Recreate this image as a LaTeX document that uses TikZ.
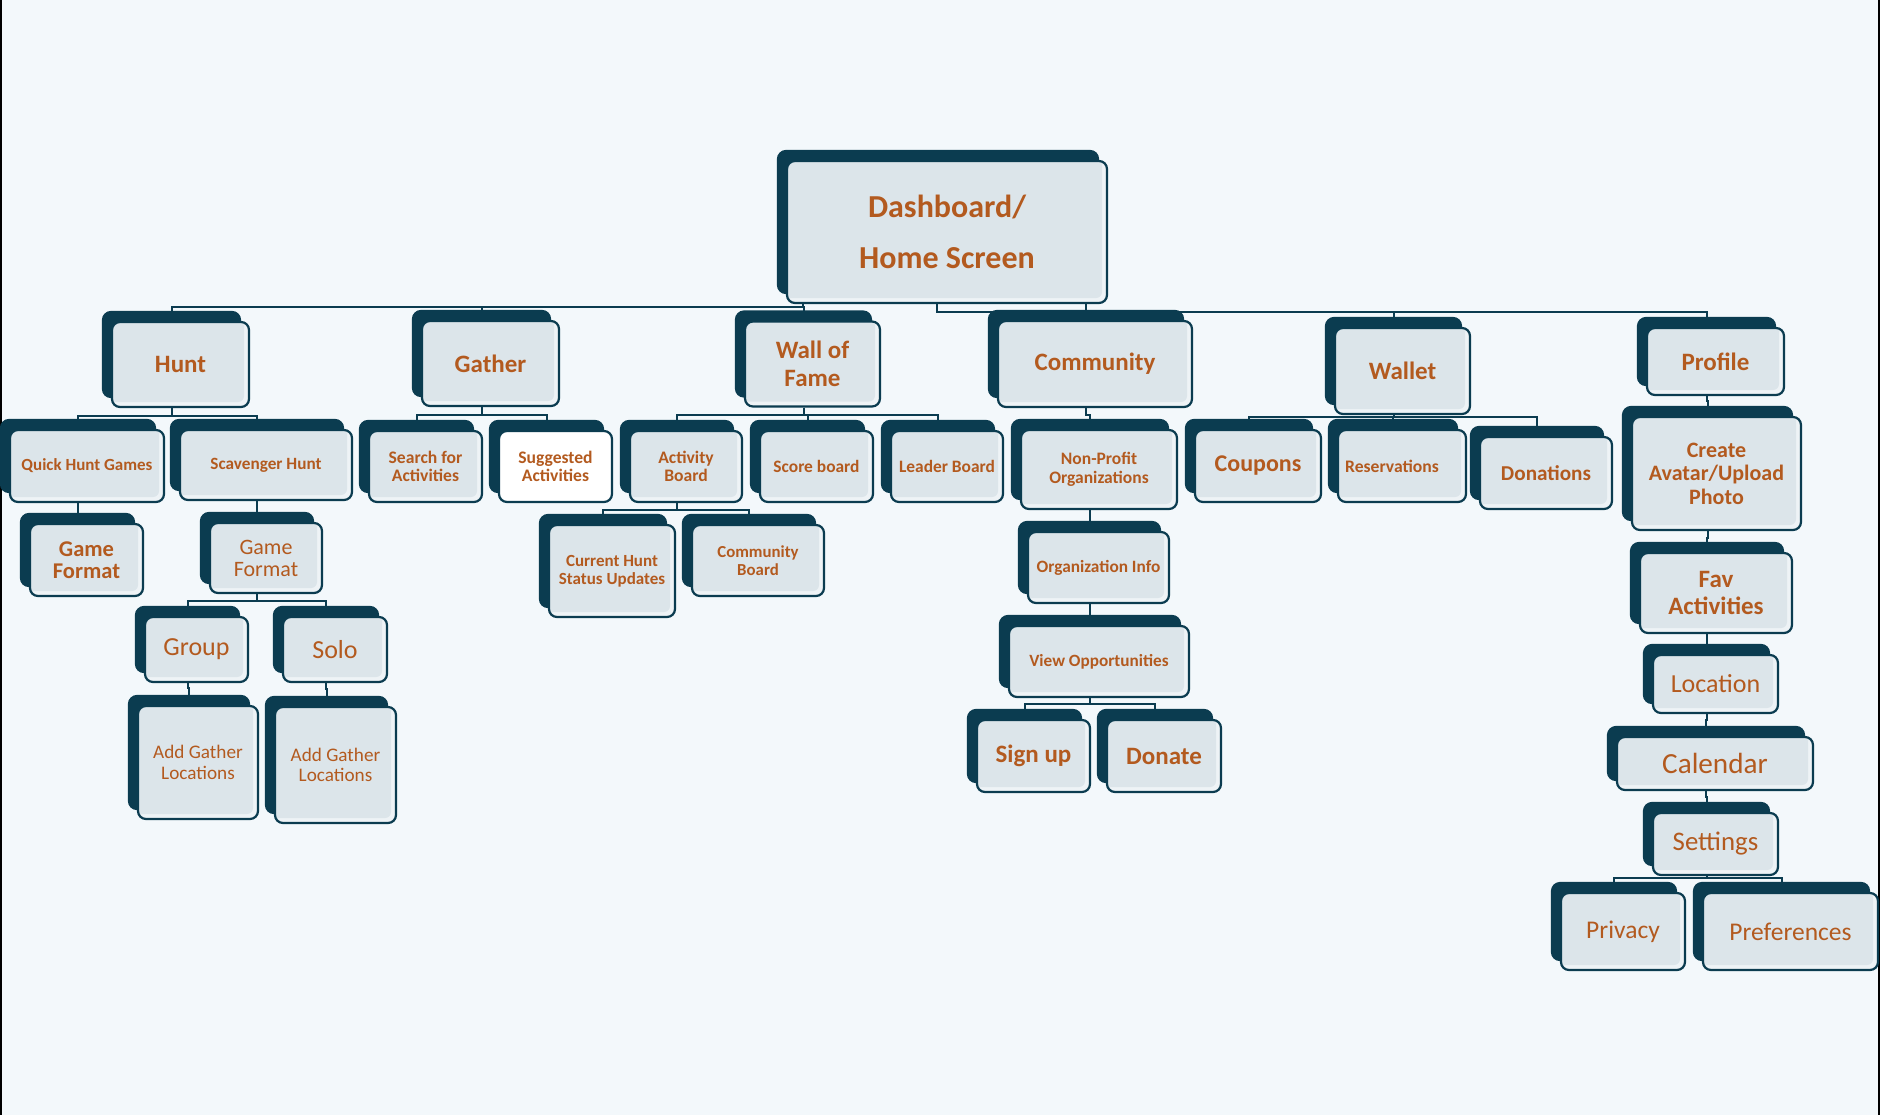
\documentclass[tikz,border=0pt]{standalone}
\usepackage{fontspec}
\setmainfont{Carlito}
\usetikzlibrary{backgrounds}
\definecolor{dk}{HTML}{0B3C50}
\definecolor{fg}{HTML}{DCE5EA}
\definecolor{band}{HTML}{EEF3F6}
\definecolor{pagebg}{HTML}{F3F8FB}
\definecolor{tc}{HTML}{B35A1F}
\pgfdeclarelayer{bg}
\pgfsetlayers{bg,background,main}
\newcommand\fz[2]{\fontsize{#1}{#2}\selectfont}
\newcommand\conn[4][-4.5pt]{%
  \path ([xshift=#1]#2.south) coordinate (cnP) ([xshift=-4.5pt]#3.north) coordinate (cnC) (0,#4) coordinate (cnB);
  \draw[cn] (cnP) -- (cnP |- cnB) -- (cnC |- cnB) -- (cnC);}
\tikzset{
  bx/.style={draw=dk, line width=1.1pt, rounded corners=4pt, fill=band, inner sep=0pt, align=center, text=tc,
    preaction={fill=dk, draw=dk, transform canvas={xshift=-4.5pt, yshift=5pt}},
    path picture={\fill[fg, rounded corners=3pt] ([xshift=-3pt,yshift=3pt]path picture bounding box.north west) rectangle ([xshift=-2.5pt,yshift=2.5pt]path picture bounding box.south east);}},
  wbx/.style={draw=dk, line width=1.1pt, rounded corners=4pt, fill=white, inner sep=0pt, align=center, text=tc,
    preaction={fill=dk, draw=dk, transform canvas={xshift=-4.5pt, yshift=5pt}}},
  sz/.style 2 args={minimum width=#1*0.5pt, minimum height=#2*0.5pt},
  cn/.style={draw=dk, line width=1pt},
}
\begin{document}
\begin{tikzpicture}[x=0.5pt, y=-0.5pt]
\begin{pgfonlayer}{bg}
\fill[pagebg] (0,0) rectangle (1880,1115);
\fill[black] (0,0) rectangle (1.5,1115);
\fill[black] (1877.5,0) rectangle (1880,1115);
\end{pgfonlayer}
\useasboundingbox (0,0) rectangle (1880,1115);

% root
\node[bx, sz={320}{142}, font=\bfseries\fz{16}{25.5}] (dash) at (947,232) {Dashboard/\\Home Screen};

% level 1
\node[bx, sz={137}{85}, font=\bfseries\fz{12.5}{14}] (hunt) at (180.5,364.5) {Hunt};
\node[bx, sz={137}{85}, font=\bfseries\fz{12.5}{14}] (gather) at (490.5,363.5) {Gather};
\node[bx, sz={135}{85}, font=\bfseries\fz{12.5}{14}] (wof) at (812.5,364) {Wall of\\Fame};
\node[bx, sz={194}{86}, font=\bfseries\fz{12.5}{14}] (comm) at (1095,364) {Community};
\node[bx, sz={135}{86}, font=\bfseries\fz{12.5}{14}] (wallet) at (1402.5,371) {Wallet};
\node[bx, sz={137}{67}, font=\bfseries\fz{12.5}{14}] (profile) at (1715.5,361.5) {Profile};

% level 2
\node[bx, sz={154}{72}, font=\bfseries\fz{8.5}{9}] (qhg) at (87,466) {Quick Hunt Games};
\node[bx, sz={172}{70}, font=\bfseries\fz{8.6}{9}] (scav) at (266,465) {Scavenger Hunt};
\node[bx, sz={113}{71}, font=\bfseries\fz{8.8}{9.1}] (search) at (425.5,466.5) {Search for\\Activities};
\node[wbx, sz={113}{71}, font=\bfseries\fz{8.8}{9.1}] (sugg) at (555.5,466.5) {Suggested\\Activities};
\node[bx, sz={112}{71}, font=\bfseries\fz{8.8}{9.1}] (actb) at (686,466.5) {Activity\\Board};
\node[bx, sz={113}{71}, font=\bfseries\fz{8.7}{9}] (score) at (816.5,466.5) {Score board};
\node[bx, sz={112}{71}, font=\bfseries\fz{8.7}{9}] (leader) at (947,466.5) {Leader Board};
\node[bx, sz={156}{79}, font=\bfseries\fz{8.75}{9.2}] (np) at (1099,469.5) {Non-Profit\\Organizations};
\node[bx, sz={126}{72}, font=\bfseries\fz{12}{13}] (coupons) at (1258,466) {Coupons};
\node[bx, sz={128}{72}, font=\bfseries\fz{8.8}{9.2}] (resv) at (1402,466) {\hspace*{-10pt}Reservations};
\node[bx, sz={132}{72}, font=\bfseries\fz{10.6}{12}] (donations) at (1546,473) {Donations};
\node[bx, sz={169}{113}, font=\bfseries\fz{11}{11.7}] (avatar) at (1716.5,473.5) {Create\\Avatar/Upload\\Photo};

% level 3
\node[bx, sz={113}{72}, font=\bfseries\fz{11.25}{10.9}] (gf1) at (86.5,560) {Game\\Format};
\node[bx, sz={112}{70}, font=\fz{11}{11}] (gf2) at (266,558) {Game\\Format};
\node[bx, sz={126}{92}, font=\bfseries\fz{8.5}{8.9}] (cur) at (612,571) {Current Hunt\\Status Updates};
\node[bx, sz={132}{71}, font=\bfseries\fz{8.4}{8.9}] (comboard) at (758,560.5) {Community\\Board};
\node[bx, sz={141}{71}, font=\bfseries\fz{8.65}{9}] (org) at (1098.5,567.5) {Organization Info};
\node[bx, sz={152}{80}, font=\bfseries\fz{12.5}{13.3}] (fav) at (1716,593) {Fav\\Activities};

% level 4
\node[bx, sz={103}{65}, font=\fz{13}{14}] (group) at (196.5,649.5) {Group};
\node[bx, sz={104}{65}, font=\fz{13}{14}] (solo) at (335,649.5) {Solo};
\node[bx, sz={180}{71}, font=\bfseries\fz{8.6}{9}] (view) at (1099,661.5) {View Opportunities};
\node[bx, sz={125}{58}, font=\fz{13}{14}] (loc) at (1715.5,684) {Location};

% level 5
\node[bx, sz={120}{113}, font=\fz{9.6}{10.3}] (agl1) at (198,762.5) {Add Gather\\Locations};
\node[bx, sz={121}{116}, font=\fz{9.6}{10.3}] (agl2) at (335.5,765) {Add Gather\\Locations};
\node[bx, sz={113}{72}, font=\bfseries\fz{12.5}{13}] (signup) at (1033.5,756) {Sign up};
\node[bx, sz={114}{72}, font=\bfseries\fz{12.5}{13}] (donate) at (1164,756) {Donate};
\node[bx, sz={196}{53}, font=\fz{14.6}{15}] (cal) at (1715,763.5) {Calendar};
\node[bx, sz={125}{62}, font=\fz{13.4}{14}] (settings) at (1715.5,844) {Settings};
\node[bx, sz={124}{77}, font=\fz{12.75}{13}] (privacy) at (1623,931.5) {Privacy};
\node[bx, sz={175}{77}, font=\fz{12.75}{13}] (pref) at (1790.5,931.5) {Preferences};

\begin{pgfonlayer}{background}
\conn[-72pt]{dash}{hunt}{307}
\conn[-72pt]{dash}{gather}{307}
\conn[-72pt]{dash}{wof}{307}
\conn[69.5pt]{dash}{comm}{312}
\conn[-5pt]{dash}{wallet}{312}
\conn[-5pt]{dash}{profile}{312}
\conn{hunt}{qhg}{416}
\conn{hunt}{scav}{416}
\conn{qhg}{gf1}{513}
\conn{scav}{gf2}{512}
\conn{gf2}{group}{601}
\conn{gf2}{solo}{601}
\conn{group}{agl1}{688}
\conn{solo}{agl2}{689}
\conn{gather}{search}{415}
\conn{gather}{sugg}{415}
\conn{wof}{actb}{415}
\conn{wof}{score}{415}
\conn{wof}{leader}{415}
\conn{actb}{cur}{510}
\conn{actb}{comboard}{510}
\conn{comm}{np}{415}
\conn{np}{org}{520}
\conn{org}{view}{612}
\conn{view}{signup}{704}
\conn{view}{donate}{704}
\conn{wallet}{coupons}{417}
\conn{wallet}{resv}{417}
\conn{wallet}{donations}{417}
\conn{profile}{avatar}{401}
\conn{avatar}{fav}{538}
\conn{fav}{loc}{640}
\conn{loc}{cal}{720}
\conn{cal}{settings}{797}
\conn{settings}{privacy}{878}
\conn{settings}{pref}{878}
\end{pgfonlayer}
\end{tikzpicture}
\end{document}
